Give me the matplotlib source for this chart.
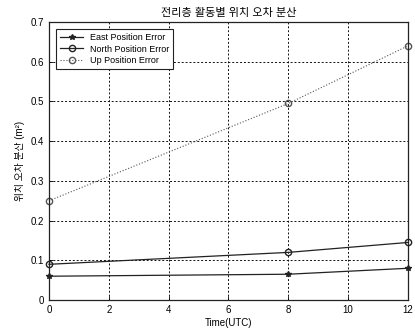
import matplotlib
matplotlib.use("Agg")
import matplotlib.pyplot as plt

plt.rcParams['font.family'] = ['Liberation Sans', 'Noto Sans CJK KR', 'DejaVu Sans']

# --- data ---
time_utc = [0, 8, 12]
east_err = [0.06, 0.065, 0.08]
north_err = [0.09, 0.12, 0.145]
up_err = [0.25, 0.495, 0.64]

x_ticks = [0, 2, 4, 6, 8, 10, 12]
y_ticks = [0, 0.1, 0.2, 0.3, 0.4, 0.5, 0.6, 0.7]

fig = plt.figure(figsize=(4.15, 3.29), dpi=100)
ax = fig.add_axes([0.118, 0.088, 0.865, 0.845])

ax.plot(time_utc, east_err, color="#222222", linewidth=0.9,
        marker="*", markersize=4, label="East Position Error", clip_on=False)
ax.plot(time_utc, north_err, color="#222222", linewidth=0.9,
        marker="o", markersize=4.5, markerfacecolor="none",
        label="North Position Error", clip_on=False)
ax.plot(time_utc, up_err, color="#555555", linewidth=0.8, linestyle=":",
        marker="o", markersize=4.5, markerfacecolor="none",
        label="Up Position Error", clip_on=False)

ax.set_xlim(0, 12)
ax.set_ylim(0, 0.7)
ax.set_xticks(x_ticks)
ax.set_yticks(y_ticks)
ax.set_xticklabels([str(t) for t in x_ticks])
ax.set_yticklabels(["0"] + [f"{v:.1f}" for v in y_ticks[1:]])
ax.tick_params(labelsize=7, direction="in", length=3, width=0.6)

ax.grid(True, linestyle=(0, (2, 2)), color="#111111", linewidth=0.7)
for s in ax.spines.values():
    s.set_linewidth(0.9)
    s.set_color("#222222")

ax.set_title("전리층 활동별 위치 오차 분산", fontsize=8, pad=4)
ax.set_xlabel("Time(UTC)", fontsize=7, labelpad=2)
ax.set_ylabel("위치 오차 분산 (m²)", fontsize=7, labelpad=4)

leg = ax.legend(loc="upper left", fontsize=6.5, frameon=True, fancybox=False,
                edgecolor="#222222", framealpha=1, borderpad=0.4,
                labelspacing=0.3, handlelength=2.6, borderaxespad=0.8)
leg.get_frame().set_linewidth(0.8)

fig.savefig("out.png", dpi=100)
